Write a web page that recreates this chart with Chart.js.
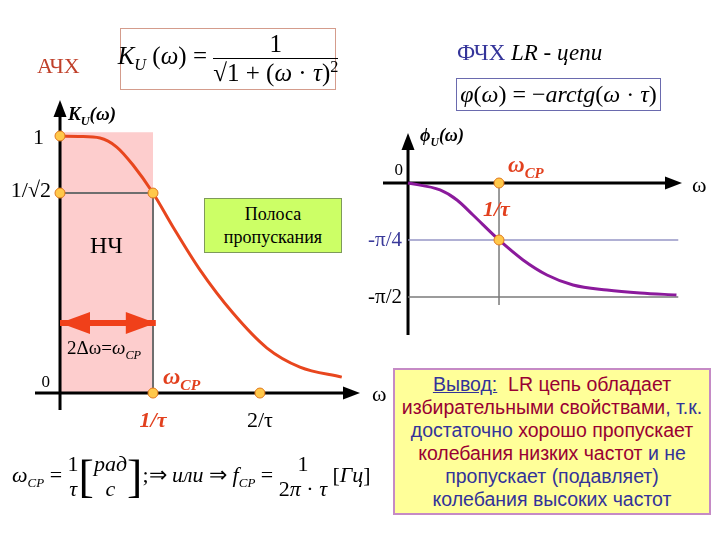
<!DOCTYPE html>
<html>
<head>
<meta charset="utf-8">
<script src="https://cdn.jsdelivr.net/npm/chart.js@4.4.0/dist/chart.umd.min.js"></script>
<style>
body { margin: 0; background: #fff; }
#page { position: relative; width: 720px; height: 540px; overflow: hidden; font-family: "Liberation Serif", "Times New Roman", serif; }
canvas.full { position: absolute; left: 0; top: 0; }
.t { position: absolute; white-space: nowrap; line-height: 1; }
.box { position: absolute; display: flex; align-items: center; justify-content: center; box-sizing: border-box; white-space: nowrap; }
.frac { display: inline-flex; flex-direction: column; align-items: center; vertical-align: middle; }
.frac .n { border-bottom: 1.5px solid #000; width: 100%; text-align: center; line-height: 1.1; }
.frac .d { line-height: 1.15; }
.ov { border-top: 1.5px solid #000; }
.br { font-size: 46px; vertical-align: middle; line-height: 1; font-weight: 300; }
i { font-style: italic; }
sub, sup { font-size: 65%; line-height: 0; }
.red { color: #E2401E; font-weight: bold; font-style: italic; }
</style>
</head>
<body>
<div id="page">
  <canvas id="ampChart" class="full" width="720" height="540"></canvas>
  <canvas id="phaseChart" class="full" width="720" height="540"></canvas>

  <!-- left side -->
  <div class="t" style="left:37px;top:55px;font-size:22px;color:#C0402A">АЧХ</div>
  <div class="box" style="left:120px;top:28px;width:216px;height:62px;border:1.5px solid #D49C8C;font-size:25px">
    <span><i>K</i><sub><i>U</i></sub>&nbsp;(<i>ω</i>) =&nbsp;<span class="frac"><span class="n">1</span><span class="d">√<span class="ov">1 + (<i>ω</i> · <i>τ</i>)<sup>2</sup></span></span></span></span>
  </div>
  <div class="t" style="left:68px;top:104px;font-size:19px;font-weight:bold;font-style:italic">K<sub>U</sub>(ω)</div>
  <div class="t" style="left:90px;top:233px;font-size:24px">НЧ</div>
  <div class="t" style="left:67px;top:338px;font-size:19px">2Δω=<i>ω</i><sub><i>CP</i></sub></div>
  <div class="t red" style="left:163px;top:364px;font-size:24px">ω<sub>CP</sub></div>
  <div class="t" style="left:372px;top:383px;font-size:22px">ω</div>
  <div class="box" style="left:204px;top:198px;width:138px;height:55px;background:#CCFF66;border:1.5px solid #7E9A5A;font-size:18px;flex-direction:column;line-height:1.25">
    <div>Полоса</div><div>пропускания</div>
  </div>

  <!-- right side -->
  <div class="t" style="left:457px;top:41px;font-size:23px"><span style="color:#35359A">ФЧХ</span> <i>LR - цепи</i></div>
  <div class="box" style="left:456px;top:78px;width:205px;height:33px;border:1.5px solid #6A6AAE;font-size:24px">
    <span><i>φ</i>(<i>ω</i>) = −<i>arctg</i>(<i>ω</i> · <i>τ</i>)</span>
  </div>
  <div class="t" style="left:420px;top:126px;font-size:18px;font-weight:bold;font-style:italic">ϕ<sub>U</sub>(ω)</div>
  <div class="t red" style="left:508px;top:153px;font-size:23px">ω<sub>CP</sub></div>
  <div class="t red" style="left:483px;top:198px;font-size:22px">1/τ</div>
  <div class="t" style="left:692px;top:174px;font-size:22px">ω</div>

  <!-- bottom formula -->
  <div class="t" style="left:12px;top:452px;font-size:22px;line-height:1.2">
    <i>ω</i><sub style="font-size:13px"><i>CP</i></sub>&nbsp;=&nbsp;<span class="frac"><span class="n" style="border:none">1</span><span class="d"><i>τ</i></span></span><span class="br">[</span><span class="frac"><span class="n" style="border:none"><i>рад</i></span><span class="d"><i>c</i></span></span><span class="br">]</span>;⇒&nbsp;<i>или</i>&nbsp;⇒&nbsp;<i>f</i><sub style="font-size:13px"><i>CP</i></sub>&nbsp;=&nbsp;<span class="frac"><span class="n" style="border:none">1</span><span class="d">2<i>π</i> · <i>τ</i></span></span>&nbsp;[<i>Гц</i>]
  </div>

  <!-- conclusion -->
  <div class="box" style="left:393px;top:368px;width:318px;height:147px;background:#FFFF99;border:2px solid #C58AC5;flex-direction:column;font-family:'Liberation Sans',Arial,sans-serif;font-size:19.5px;line-height:23px;text-align:center">
    <div><span style="color:#333399;text-decoration:underline">Вывод:</span>&nbsp; <span style="color:#990033">LR цепь обладает</span></div>
    <div><span style="color:#990033">избирательными свойствами</span><span style="color:#333399">, т.к.</span></div>
    <div><span style="color:#333399">достаточно</span> <span style="color:#990033">хорошо пропускает</span></div>
    <div><span style="color:#990033">колебания низких частот</span> <span style="color:#333399">и не</span></div>
    <div style="color:#333399">пропускает (подавляет)</div>
    <div style="color:#333399">колебания высоких частот</div>
  </div>
</div>

<script>
// АЧХ: K_U(ω), ω in units of 1/τ
const wK = [0, 0.2, 0.43, 0.61, 0.785, 1, 1.215, 1.505, 1.86, 2.226, 2.58, 3.03];
const kU = [1, 0.998, 0.992, 0.957, 0.887, 0.778, 0.646, 0.479, 0.311, 0.175, 0.101, 0.062];
const kDotsW = [0, 0, 1, 1, 2.15];
const kDotsK = [1, 0.778, 0.778, 0, 0];
const bandW = [0, 1];
const bandTop = 1.015;
const arrowW = [0, 1.03];
const arrowK = 0.272;
const kTickVals = [1, 0.778];
const kTickLabels = ['1', '1/√2'];
const wTickVals = [1, 2.15];
const wTickLabels = ['1/τ', '2/τ'];

// ФЧХ: φ(ω) in radians
const wPhi = [0, 0.352, 0.538, 0.714, 1, 1.264, 1.527, 1.813, 2.187, 2.55, 2.95];
const phiU = [0, -0.096, -0.234, -0.441, -0.785, -1.06, -1.267, -1.405, -1.474, -1.515, -1.543];
const phiDotsW = [1, 1];
const phiDots = [0, -0.785];
const phiGuideW = [0, 2.97];
const phiTickVals = [-0.785, -1.571];
const phiTickLabels = ['-π/4', '-π/2'];
const phiVertBottom = -1.68;

const pts = (xs, ys) => xs.map((x, i) => ({ x: x, y: Array.isArray(ys) ? ys[i] : ys }));

// axes with arrows, drawn under the guide lines; tick labels drawn last
const axesPlugin = {
    id: 'axes',
    beforeDatasetDraw(chart, args, opts) {
        if (args.index !== opts.under) return;
        const { ctx, chartArea: a, scales: { x, y } } = chart;
        const ox = x.getPixelForValue(0), oy = y.getPixelForValue(0);
        ctx.save();
        ctx.strokeStyle = '#000';
        ctx.fillStyle = '#000';
        ctx.lineWidth = 3;
        ctx.beginPath();
        ctx.moveTo(a.left, oy); ctx.lineTo(a.right - 10, oy);
        ctx.moveTo(ox, a.bottom); ctx.lineTo(ox, a.top + 10);
        ctx.stroke();
        ctx.beginPath();
        ctx.moveTo(a.right, oy); ctx.lineTo(a.right - 17, oy - 6.5); ctx.lineTo(a.right - 17, oy + 6.5);
        ctx.closePath(); ctx.fill();
        ctx.beginPath();
        ctx.moveTo(ox, a.top); ctx.lineTo(ox - 6.5, a.top + 17); ctx.lineTo(ox + 6.5, a.top + 17);
        ctx.closePath(); ctx.fill();
        ctx.restore();
    },
    afterDatasetsDraw(chart) {
        const ctx = chart.ctx;
        chart.data.datasets.forEach((ds, i) => {
            if (!ds.arrowHeads) return;
            const p = chart.getDatasetMeta(i).data;
            const a = p[0], b = p[p.length - 1];
            ctx.save();
            ctx.fillStyle = ds.borderColor;
            [[a.x, a.y, 1], [b.x, b.y, -1]].forEach(([px, py, dir]) => {
                ctx.beginPath();
                ctx.moveTo(px, py);
                ctx.lineTo(px + dir * 30, py - 11);
                ctx.lineTo(px + dir * 30, py + 11);
                ctx.closePath();
                ctx.fill();
            });
            ctx.restore();
        });
    },
    afterDraw(chart, args, opts) {
        const { ctx, scales: { x, y } } = chart;
        const ox = x.getPixelForValue(0), oy = y.getPixelForValue(0);
        ctx.save();
        ctx.textBaseline = 'middle';
        ctx.textAlign = 'right';
        (opts.yTicks || []).forEach((t, i) => {
            const st = opts.yStyle[i];
            ctx.font = st.font;
            ctx.fillStyle = st.color;
            ctx.fillText(t.label, ox - st.dx, y.getPixelForValue(t.value) + (st.dy || 0));
        });
        ctx.textAlign = 'center';
        (opts.xTicks || []).forEach((t, i) => {
            const st = opts.xStyle[i];
            ctx.font = st.font;
            ctx.fillStyle = st.color;
            ctx.fillText(t.label, x.getPixelForValue(t.value), oy + st.dy);
        });
        if (opts.zero) {
            ctx.textAlign = 'right';
            ctx.font = opts.zero.font;
            ctx.fillStyle = '#000';
            ctx.fillText('0', ox - opts.zero.dx, oy - opts.zero.dy);
        }
        ctx.restore();
    }
};

function baseOptions(pad, xr, yr, axes) {
    return {
        responsive: false,
        animation: false,
        events: [],
        layout: { padding: pad },
        scales: {
            x: { type: 'linear', display: false, min: xr[0], max: xr[1] },
            y: { type: 'linear', display: false, min: yr[0], max: yr[1] }
        },
        plugins: { legend: { display: false }, tooltip: { enabled: false }, axes: axes },
        elements: { line: { tension: 0 } }
    };
}

const dotStyle = { pointRadius: 5, pointBackgroundColor: '#FFC84A', pointBorderColor: '#E0781E', pointBorderWidth: 1 };
const serif = '"Liberation Serif", "Times New Roman", serif';

new Chart(document.getElementById('ampChart'), {
    type: 'line',
    data: {
        datasets: [
            Object.assign({ data: pts(kDotsW, kDotsK), showLine: false }, dotStyle),
            { data: pts(wK, kU), borderColor: '#E8461E', borderWidth: 3, pointRadius: 0, cubicInterpolationMode: 'monotone' },
            { data: pts(arrowW, arrowK), borderColor: '#F0401A', borderWidth: 6, pointRadius: 0, arrowHeads: true },
            { data: [{ x: kDotsW[0], y: kTickVals[1] }, { x: 1, y: kTickVals[1] }, { x: 1, y: 0 }], borderColor: '#6E6E6E', borderWidth: 2, pointRadius: 0 },
            { data: pts(bandW, bandTop), borderWidth: 0, pointRadius: 0, fill: 'origin', backgroundColor: '#FDCDCD' }
        ]
    },
    plugins: [axesPlugin],
    options: baseOptions(
        { left: 35, top: 100, right: 360, bottom: 130 },
        [-0.269, 3.226], [-0.066, 1.14],
        {
            under: 3,
            yTicks: kTickVals.map((v, i) => ({ value: v, label: kTickLabels[i] })),
            yStyle: [{ font: '22px ' + serif, color: '#000', dx: 16, dy: 2 }, { font: '22px ' + serif, color: '#000', dx: 9, dy: -2 }],
            xTicks: wTickVals.map((v, i) => ({ value: v, label: wTickLabels[i] })),
            xStyle: [{ font: 'italic bold 22px ' + serif, color: '#E2401E', dy: 28 }, { font: '22px ' + serif, color: '#000', dy: 28 }],
            zero: { font: '17px ' + serif, dx: 10, dy: 11 }
        }
    )
});

new Chart(document.getElementById('phaseChart'), {
    type: 'line',
    data: {
        datasets: [
            Object.assign({ data: pts(phiDotsW, phiDots), showLine: false }, dotStyle),
            { data: pts(wPhi, phiU), borderColor: '#8B1A9C', borderWidth: 3, pointRadius: 0, cubicInterpolationMode: 'monotone' },
            { data: pts(phiGuideW, phiTickVals[0]), borderColor: '#9696C6', borderWidth: 1.5, pointRadius: 0 },
            { data: pts(phiGuideW, phiTickVals[1]), borderColor: '#7A7A7A', borderWidth: 1.5, pointRadius: 0 },
            { data: [{ x: 1, y: 0 }, { x: 1, y: phiVertBottom }], borderColor: '#7A7A7A', borderWidth: 1.5, pointRadius: 0 }
        ]
    },
    plugins: [axesPlugin],
    options: baseOptions(
        { left: 383, top: 133, right: 38, bottom: 205 },
        [-0.275, 3.011], [-2.094, 0.689],
        {
            under: 4,
            yTicks: phiTickVals.map((v, i) => ({ value: v, label: phiTickLabels[i] })),
            yStyle: [{ font: '21px ' + serif, color: '#3A3A9A', dx: 6, dy: 0 }, { font: '21px ' + serif, color: '#000', dx: 6, dy: 0 }],
            xTicks: [],
            xStyle: [],
            zero: { font: '17px ' + serif, dx: 5, dy: 12 }
        }
    )
});
</script>
</body>
</html>
